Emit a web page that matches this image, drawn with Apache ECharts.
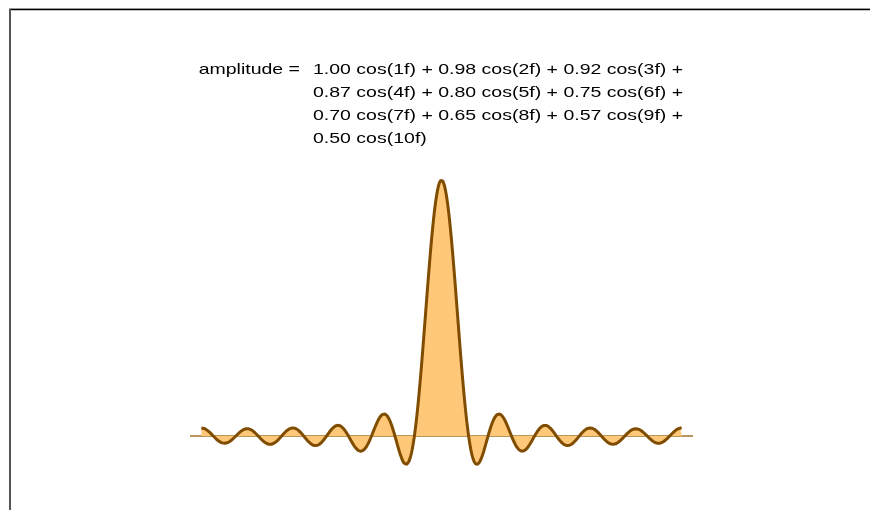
<!DOCTYPE html>
<html>
<head>
<meta charset="utf-8">
<script src="https://cdn.jsdelivr.net/npm/echarts@6/dist/echarts.min.js"></script>
<style>html,body{margin:0;padding:0;background:#fff}#c{width:870px;height:510px}</style>
</head>
<body>
<div id="c"></div>
<script>
// Chart data: harmonic numbers and their coefficients (as printed in the formula)
var harmonics = [1, 2, 3, 4, 5, 6, 7, 8, 9, 10];
var coefficients = [1.00, 0.98, 0.92, 0.87, 0.80, 0.75, 0.70, 0.65, 0.57, 0.50];
var baselineValue = -0.5;
var fMin = -Math.PI, fMax = Math.PI;
var sampleCount = 721;

function amplitude(f) {
  var s = 0;
  for (var i = 0; i < harmonics.length; i++) s += coefficients[i] * Math.cos(harmonics[i] * f);
  return s;
}
var curve = [];
for (var j = 0; j < sampleCount; j++) {
  var f = fMin + (fMax - fMin) * j / (sampleCount - 1);
  curve.push([f, amplitude(f)]);
}

// formula text lines built from the data
var terms = harmonics.map(function (k, i) { return coefficients[i].toFixed(2) + ' cos(' + k + 'f)'; });
var lines = [];
for (var t = 0; t < terms.length; t += 3) {
  var chunk = terms.slice(t, t + 3).join(' + ');
  if (t + 3 < terms.length) chunk += ' +';
  lines.push(chunk);
}

var chart = echarts.init(document.getElementById('c'), null, {renderer: 'canvas'});
var font = '15px "Liberation Sans", Arial, sans-serif';
var sx = 1.3;
var graphics = [
  {type: 'rect', shape: {x: 9, y: 8, width: 861, height: 1}, style: {fill: '#999'}, silent: true},
  {type: 'rect', shape: {x: 9, y: 9, width: 861, height: 1.2}, style: {fill: '#000'}, silent: true},
  {type: 'rect', shape: {x: 9, y: 9, width: 2, height: 501}, style: {fill: '#555'}, silent: true},
  {type: 'text', x: 300, y: 70, scaleX: sx, style: {text: 'amplitude =', font: font, fill: '#000', textAlign: 'right', textVerticalAlign: 'middle'}}
];
lines.forEach(function (ln, i) {
  graphics.push({type: 'text', x: 313, y: 70 + 23 * i, scaleX: sx, style: {text: ln, font: font, fill: '#000', textAlign: 'left', textVerticalAlign: 'middle'}});
});

chart.setOption({
  animation: false,
  backgroundColor: '#fff',
  grid: {left: 190, right: 177, top: 171.9, bottom: 27.4, containLabel: false, outerBoundsMode: 'none'},
  xAxis: {type: 'value', min: -3.29, max: 3.29, show: false},
  yAxis: {type: 'value', min: -2, max: 8, interval: 2, show: false},
  graphic: graphics,
  series: [{
    type: 'line',
    data: curve,
    showSymbol: false,
    smooth: false,
    lineStyle: {color: '#7F4C00', width: 3},
    areaStyle: {color: '#FFC878', opacity: 1, origin: baselineValue},
    markLine: {
      silent: true,
      symbol: ['none', 'none'],
      label: {show: false},
      lineStyle: {color: '#A0702A', width: 1.5, type: 'solid'},
      data: [{yAxis: baselineValue}],
      z: 1
    },
    z: 2
  }]
});
</script>
</body>
</html>
